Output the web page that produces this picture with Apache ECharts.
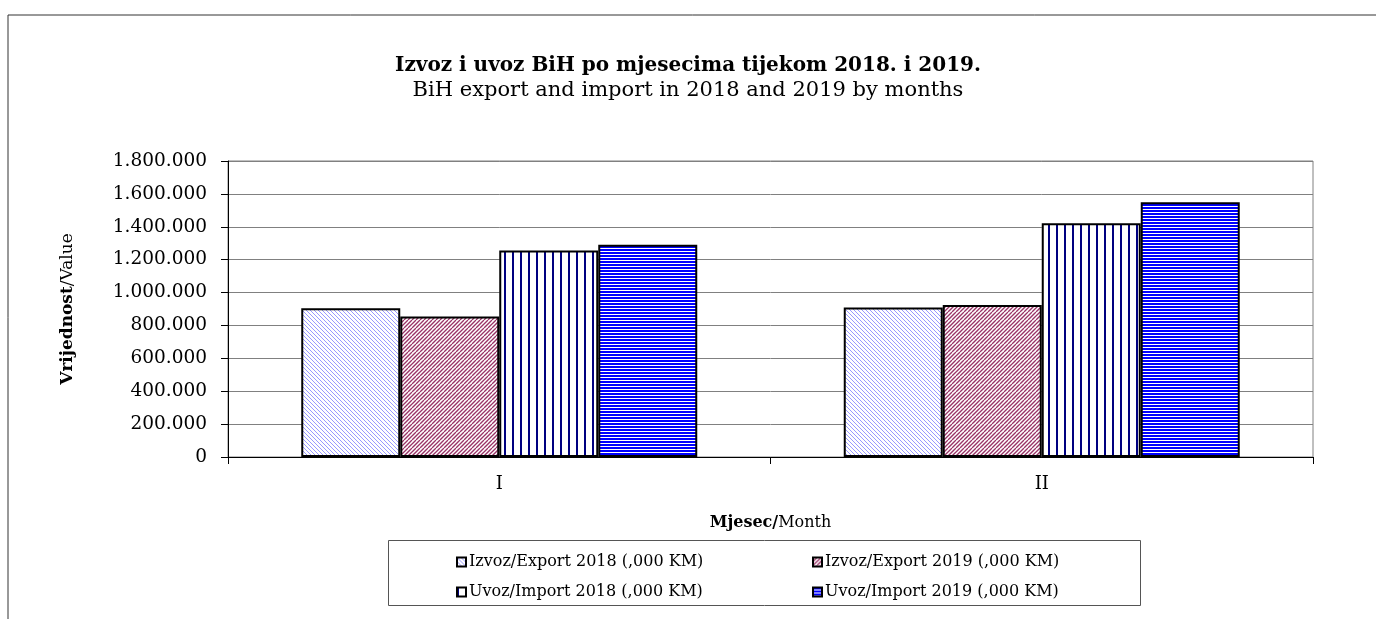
<!DOCTYPE html>
<html>
<head>
<meta charset="utf-8">
<script src="https://cdn.jsdelivr.net/npm/echarts@6/dist/echarts.min.js"></script>
<style>
  html, body { margin: 0; padding: 0; background: #fff; }
  #chart { width: 1376px; height: 619px; }
</style>
</head>
<body>
<div id="chart"></div>
<script>
const months = ['I', 'II'];
const seriesNames = [
  'Izvoz/Export 2018 (,000 KM)',
  'Izvoz/Export 2019 (,000 KM)',
  'Uvoz/Import 2018 (,000 KM)',
  'Uvoz/Import 2019 (,000 KM)'
];
const export2018 = [905000, 909000];
const export2019 = [854000, 925000];
const import2018 = [1255000, 1422000];
const import2019 = [1290000, 1549000];

const FONT = 'DejaVu Serif';

// hatch patterns, drawn on small canvases
function makeTile(w, h, draw) {
  const c = document.createElement('canvas');
  c.width = w; c.height = h;
  const ctx = c.getContext('2d');
  ctx.fillStyle = '#fff';
  ctx.fillRect(0, 0, w, h);
  draw(ctx);
  return { image: c, repeat: 'repeat' };
}

const diagDown = makeTile(8, 8, ctx => {
  ctx.strokeStyle = '#9999ff';
  ctx.lineWidth = 1;
  for (let k = -8; k <= 16; k += 4) {
    ctx.beginPath(); ctx.moveTo(k, 0); ctx.lineTo(k + 8, 8); ctx.stroke();
  }
});
const diagUp = makeTile(8, 8, ctx => {
  ctx.strokeStyle = '#993366';
  ctx.lineWidth = 1.3;
  for (let k = -8; k <= 16; k += 4) {
    ctx.beginPath(); ctx.moveTo(k, 8); ctx.lineTo(k + 8, 0); ctx.stroke();
  }
});
const vertical = makeTile(8, 8, ctx => {
  ctx.fillStyle = '#000080';
  ctx.fillRect(0, 0, 2, 8);
});
const horizontal = makeTile(8, 3, ctx => {
  ctx.fillStyle = '#0000ff';
  ctx.fillRect(0, 0, 8, 2);
});

const chart = echarts.init(document.getElementById('chart'));

function fmt(v) {
  return String(v).replace(/\B(?=(\d{3})+(?!\d))/g, '.');
}

function barSeries(name, data, fill) {
  return {
    name: name,
    type: 'bar',
    data: data,
    barWidth: 99,
    barGap: '0%',
    itemStyle: { color: fill, borderColor: '#000', borderWidth: 2 }
  };
}

const legendBase = {
  orient: 'vertical',
  top: 554,
  icon: 'rect',
  itemWidth: 9,
  itemHeight: 9,
  itemGap: 14,
  padding: 0,
  textStyle: { fontFamily: FONT, fontSize: 16, color: '#000', padding: [0, 0, 0, -2] }
};

chart.setOption({
  animation: false,
  backgroundColor: '#fff',
  title: {
    left: 'center',
    top: 51,
    text: 'Izvoz i uvoz BiH po mjesecima tijekom 2018. i 2019.',
    subtext: 'BiH export and import in 2018 and 2019 by months',
    itemGap: 4,
    textStyle: { fontFamily: FONT, fontSize: 20, fontWeight: 'bold', color: '#000' },
    subtextStyle: { fontFamily: FONT, fontSize: 21, color: '#000' }
  },
  grid: {
    left: 228, right: 63, top: 161, bottom: 162,
    show: true, borderColor: '#808080', borderWidth: 1
  },
  legend: [
    Object.assign({}, legendBase, { left: 456, data: [seriesNames[0], seriesNames[2]] }),
    Object.assign({}, legendBase, { left: 812, data: [seriesNames[1], seriesNames[3]] })
  ],
  xAxis: {
    type: 'category',
    data: months,
    name: '{b|Mjesec/}{r|Month}',
    nameLocation: 'middle',
    nameGap: 58,
    nameTextStyle: {
      rich: {
        b: { fontFamily: FONT, fontSize: 16, fontWeight: 'bold', color: '#000' },
        r: { fontFamily: FONT, fontSize: 16, color: '#000' }
      }
    },
    axisLine: { lineStyle: { color: '#000', width: 1 } },
    axisTick: { show: true, length: 7, lineStyle: { color: '#000' } },
    axisLabel: { fontFamily: FONT, fontSize: 18, color: '#000', margin: 18 },
    splitLine: { show: false }
  },
  yAxis: {
    type: 'value',
    min: 0,
    max: 1800000,
    interval: 200000,
    name: '{b|Vrijednost}{r|/Value}',
    nameLocation: 'middle',
    nameRotate: 90,
    nameGap: 152,
    nameTextStyle: {
      rich: {
        b: { fontFamily: FONT, fontSize: 17, fontWeight: 'bold', color: '#000' },
        r: { fontFamily: FONT, fontSize: 17, color: '#000' }
      }
    },
    axisLine: { show: true, lineStyle: { color: '#000', width: 1 } },
    axisTick: { show: true, length: 7, lineStyle: { color: '#000' } },
    axisLabel: { fontFamily: FONT, fontSize: 18.5, color: '#000', margin: 21, formatter: fmt },
    splitLine: { lineStyle: { color: '#808080', width: 1 } }
  },
  graphic: [
    { type: 'polyline', silent: true, shape: { points: [[8, 640], [8, 15], [1400, 15]] },
      style: { stroke: '#333', lineWidth: 1, fill: null } },
    { type: 'rect', silent: true, shape: { x: 388.5, y: 540.5, width: 752, height: 65 },
      style: { stroke: '#555', lineWidth: 1, fill: null } }
  ],
  series: [
    barSeries(seriesNames[0], export2018, diagDown),
    barSeries(seriesNames[1], export2019, diagUp),
    barSeries(seriesNames[2], import2018, vertical),
    barSeries(seriesNames[3], import2019, horizontal)
  ]
});

window.addEventListener('resize', () => chart.resize());
</script>
</body>
</html>
